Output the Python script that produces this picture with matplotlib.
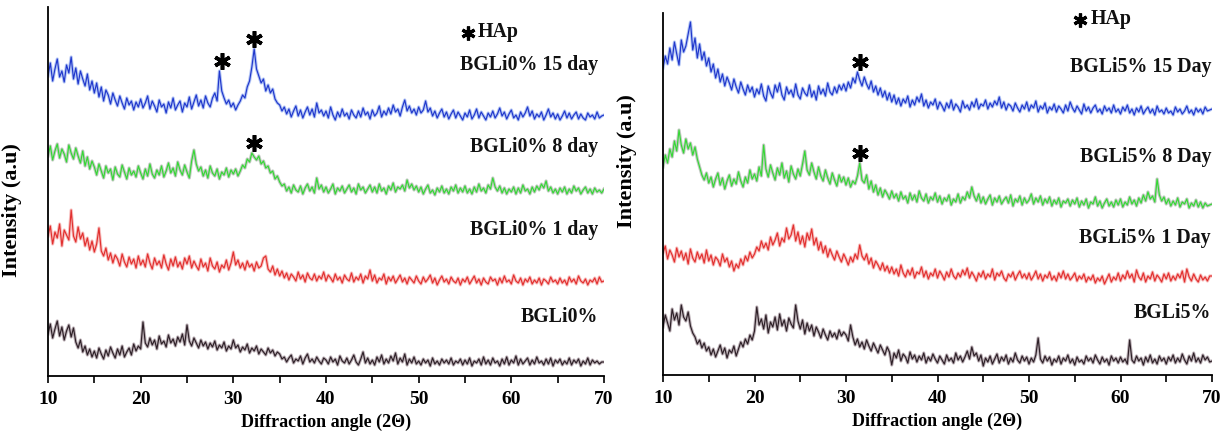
import numpy as np
import matplotlib
matplotlib.use("Agg")
import matplotlib.pyplot as plt
from matplotlib.ticker import MultipleLocator

# Scan grid (2-theta, degrees), 0.25 deg step
two_theta = np.arange(10.0, 70.0 + 1e-9, 0.25)

# ---- BGLi0% patterns (intensity, a.u.), one row per 5 degrees ----
bgli0_15d = [
    55, 68, 50, 62, 72, 54, 60, 49, 66, 58, 74, 52, 63, 47, 60, 52, 45, 57, 41, 50,
    38, 48, 34, 44, 30, 41, 36, 27, 38, 31, 25, 35, 28, 22, 33, 26, 30, 21, 29, 24,
    32, 23, 28, 35, 22, 30, 25, 19, 31, 24, 27, 18, 29, 23, 33, 21, 26, 30, 19, 28,
    24, 34, 22, 29, 36, 25, 31, 23, 35, 28, 24, 33, 38, 30, 60, 40, 33, 27, 31, 24,
    28, 21, 26, 30, 36, 33, 44, 50, 64, 82, 62, 55, 48, 52, 40, 46, 38, 42, 32, 28,
    26, 20, 24, 17, 22, 14, 20, 25, 15, 21, 13, 19, 24, 16, 22, 14, 28, 18, 21, 15,
    20, 13, 24, 16, 11, 19, 14, 22, 15, 18, 12, 21, 16, 13, 20, 14, 23, 16, 19, 12,
    21, 15, 18, 25, 14, 20, 16, 23, 17, 26, 19, 22, 15, 24, 31, 20, 25, 18, 22, 16,
    24, 18, 21, 30, 19, 23, 15, 20, 13, 18, 22, 14, 19, 12, 17, 21, 13, 19, 15, 11,
    18, 14, 21, 12, 16, 22, 13, 19, 15, 11, 18, 14, 20, 13, 17, 23, 15, 19, 12, 17,
    21, 13, 16, 11, 19, 14, 18, 24, 15, 20, 12, 17, 14, 19, 11, 16, 22, 14, 18, 12,
    17, 11, 15, 20, 13, 18, 12, 16, 19, 12, 17, 13, 11, 18, 14, 16, 12, 19, 13, 15,
    16]
bgli0_8d = [
    50, 60, 46, 55, 62, 48, 57, 52, 44, 61, 53, 47, 58, 50, 43, 55, 40, 49, 37, 45,
    39, 31, 42, 35, 28, 40, 33, 37, 26, 39, 32, 29, 41, 34, 27, 38, 31, 35, 29, 40,
    33, 27, 37, 30, 42, 32, 28, 36, 31, 40, 29, 35, 43, 33, 38, 30, 44, 36, 31, 41,
    34, 28, 45, 56, 42, 35, 39, 30, 36, 28, 40, 33, 30, 37, 27, 34, 31, 38, 29, 36,
    32, 37, 30, 35, 41, 38, 47, 44, 53, 49, 46, 50, 42, 45, 38, 40, 33, 35, 27, 30,
    24, 20, 22, 15, 19, 13, 21, 16, 14, 20, 12, 18, 22, 15, 19, 13, 28, 17, 21, 14,
    19, 13, 17, 22, 12, 18, 15, 20, 13, 17, 21, 14, 18, 12, 22, 16, 19, 13, 17, 21,
    14, 19, 13, 22, 15, 18, 12, 20, 16, 23, 14, 19, 17, 21, 15, 26, 18, 22, 16, 20,
    14, 19, 12, 17, 21, 13, 16, 11, 18, 14, 20, 13, 17, 12, 19, 15, 21, 13, 18, 14,
    20, 13, 17, 12, 19, 14, 22, 15, 18, 13, 21, 17, 28, 19, 15, 20, 13, 18, 12, 17,
    14, 19, 12, 18, 13, 21, 15, 17, 12, 19, 14, 20, 16, 22, 18, 25, 15, 19, 13, 17,
    12, 18, 14, 19, 12, 17, 13, 20, 15, 18, 12, 16, 19, 13, 17, 12, 18, 14, 16, 13,
    17]
bgli0_1d = [
    60, 70, 52, 64, 58, 72, 50, 66, 61, 56, 86, 60, 54, 69, 57, 63, 50, 58, 46, 55,
    44, 52, 68, 45, 40, 48, 36, 43, 33, 41, 37, 30, 42, 34, 29, 39, 32, 37, 28, 40,
    31, 36, 29, 42, 33, 27, 38, 31, 35, 28, 41, 32, 26, 37, 30, 39, 29, 34, 27, 38,
    32, 40, 28, 35, 30, 26, 37, 29, 33, 25, 38, 30, 27, 34, 24, 31, 28, 36, 26, 33,
    44, 31, 36, 28, 33, 26, 35, 29, 32, 25, 34, 28, 30, 38, 40, 27, 24, 30, 21, 27,
    20, 25, 18, 23, 16, 22, 19, 15, 24, 17, 21, 14, 23, 18, 16, 22, 15, 20, 17, 24,
    15, 21, 18, 14, 22, 16, 19, 13, 21, 17, 15, 23, 14, 19, 16, 22, 13, 20, 17, 26,
    15, 21, 13, 18, 16, 22, 12, 19, 15, 20, 13, 17, 21, 14, 18, 12, 19, 16, 13, 20,
    15, 12, 19, 14, 17, 21, 13, 18, 11, 16, 20, 14, 17, 12, 19, 15, 13, 18, 11, 17,
    14, 19, 12, 16, 20, 13, 17, 11, 18, 14, 12, 19, 15, 17, 11, 18, 13, 20, 14, 16,
    12, 21, 15, 13, 18, 11, 17, 14, 19, 12, 16, 13, 18, 11, 17, 15, 12, 19, 14, 16,
    12, 18, 13, 16, 11, 19, 14, 17, 12, 20, 15, 13, 17, 11, 16, 14, 18, 12, 19, 14,
    15]
bgli0_raw = [
    42, 52, 38, 47, 55, 40, 49, 36, 45, 51, 39, 48, 34, 28, 36, 24, 30, 21, 27, 19,
    25, 18, 28, 22, 17, 26, 20, 29, 23, 18, 27, 21, 30, 19, 24, 28, 21, 32, 25, 30,
    27, 54, 33, 29, 38, 31, 36, 27, 40, 32, 35, 29, 41, 33, 37, 30, 39, 34, 42, 31,
    51, 35, 30, 38, 33, 28, 36, 30, 34, 27, 33, 29, 35, 26, 31, 28, 34, 25, 30, 27,
    36, 28, 31, 24, 29, 26, 32, 23, 28, 25, 30, 22, 27, 24, 21, 28, 23, 26, 20, 24,
    22, 17, 19, 14, 18, 21, 13, 17, 15, 20, 12, 18, 22, 14, 17, 13, 19, 15, 12, 18,
    16, 12, 19, 14, 17, 11, 20, 15, 13, 18, 12, 16, 21, 14, 11, 17, 24, 13, 18, 12,
    16, 11, 19, 14, 21, 12, 17, 13, 20, 15, 23, 12, 18, 14, 22, 11, 17, 13, 19, 12,
    15, 11, 17, 13, 16, 10, 18, 12, 15, 11, 17, 13, 16, 12, 18, 11, 15, 13, 17, 11,
    16, 12, 18, 10, 15, 13, 17, 11, 19, 12, 16, 11, 18, 13, 15, 10, 17, 12, 19, 11,
    16, 13, 20, 11, 17, 12, 15, 18, 11, 16, 12, 19, 13, 15, 11, 17, 12, 18, 10, 16,
    13, 17, 11, 15, 12, 18, 11, 16, 13, 17, 10, 15, 12, 18, 11, 16, 13, 15, 12, 14,
    14]

# ---- BGLi5% patterns (intensity, a.u.) ----
bgli5_15d = [
    62, 74, 66, 82, 70, 88, 76, 65, 90, 78, 84, 96, 108, 80, 92, 72, 86, 70, 78, 64,
    72, 58, 66, 52, 61, 48, 56, 44, 53, 47, 40, 51, 43, 37, 48, 41, 35, 45, 38, 43,
    33, 41, 36, 46, 34, 29, 44, 37, 32, 45, 38, 47, 35, 30, 43, 36, 40, 33, 46, 35,
    31, 42, 37, 34, 45, 33, 39, 30, 44, 36, 41, 34, 47, 38, 35, 43, 37, 45, 40, 46,
    39, 48, 42, 52, 47, 58, 50, 44, 53, 46, 41, 49, 38, 44, 35, 42, 33, 39, 30, 37,
    28, 35, 26, 32, 24, 31, 27, 34, 23, 30, 25, 33, 28, 36, 24, 30, 22, 28, 25, 31,
    21, 28, 24, 19, 27, 22, 30, 20, 26, 23, 18, 29, 22, 25, 20, 28, 23, 31, 21, 26,
    24, 30, 21, 27, 23, 29, 25, 33, 22, 28, 20, 26, 24, 19, 27, 22, 18, 25, 21, 28,
    19, 25, 22, 29, 18, 24, 21, 27, 17, 23, 20, 26, 18, 24, 21, 17, 25, 19, 28, 22,
    18, 24, 20, 16, 26, 19, 23, 17, 22, 25, 18, 21, 16, 24, 19, 22, 17, 25, 18, 21,
    16, 23, 19, 25, 17, 21, 15, 22, 18, 24, 16, 20, 23, 17, 21, 15, 24, 18, 20, 16,
    22, 17, 19, 15, 23, 18, 21, 16, 19, 24, 17, 20, 15, 22, 18, 21, 16, 23, 19, 20,
    21]
bgli5_8d = [
    58, 70, 62, 76, 68, 84, 74, 95, 80, 72, 86, 76, 82, 70, 78, 66, 58, 50, 45, 52,
    42, 48, 38, 46, 52, 40, 47, 36, 44, 50, 39, 46, 41, 53, 44, 38, 48, 42, 55, 46,
    51, 44, 58, 49, 80, 56, 48, 60, 52, 45, 57, 50, 62, 47, 54, 43, 59, 51, 46, 56,
    49, 61, 74, 55, 50, 62, 53, 46, 58, 49, 44, 55, 47, 41, 52, 45, 39, 50, 43, 48,
    40, 47, 38, 44, 41, 49, 62, 45, 42, 50, 36, 44, 33, 40, 30, 37, 28, 35, 31, 26,
    34, 27, 31, 24, 33, 26, 29, 22, 32, 25, 30, 23, 34, 27, 24, 31, 22, 28, 25, 32,
    23, 29, 21, 27, 24, 30, 20, 26, 23, 31, 22, 28, 25, 33, 27, 38, 29, 24, 31, 22,
    28, 21, 26, 30, 20, 27, 23, 29, 21, 25, 28, 22, 30, 19, 26, 23, 29, 20, 27, 22,
    25, 31, 21, 27, 23, 29, 20, 26, 22, 28, 19, 25, 21, 27, 18, 24, 22, 26, 19, 25,
    21, 27, 18, 24, 20, 26, 17, 23, 21, 28, 19, 24, 17, 22, 26, 19, 23, 18, 25, 20,
    26, 18, 23, 20, 28, 21, 25, 19, 27, 22, 30, 24, 33, 26, 29, 23, 46, 30, 24, 28,
    21, 26, 19, 24, 20, 27, 18, 23, 21, 26, 17, 22, 19, 25, 18, 23, 17, 22, 19, 20,
    21]
bgli5_1d = [
    42, 49, 36, 45, 40, 33, 47, 38, 44, 35, 42, 31, 46, 37, 33, 43, 36, 41, 32, 45,
    34, 40, 30, 38, 35, 29, 41, 33, 37, 28, 34, 24, 31, 27, 36, 30, 39, 34, 43, 37,
    41, 48, 44, 54, 47, 52, 45, 58, 50, 55, 62, 49, 57, 53, 67, 56, 60, 70, 54, 63,
    51, 59, 48, 62, 55, 66, 50, 57, 45, 53, 42, 49, 38, 46, 40, 35, 44, 38, 33, 41,
    36, 30, 38, 33, 41, 36, 50, 39, 35, 41, 31, 37, 27, 34, 30, 25, 32, 24, 29, 22,
    28, 21, 26, 19, 30, 22, 18, 25, 20, 27, 17, 23, 21, 28, 18, 24, 16, 22, 19, 26,
    17, 24, 20, 15, 23, 18, 26, 19, 16, 22, 18, 25, 20, 27, 17, 23, 19, 14, 22, 18,
    24, 16, 21, 18, 26, 15, 22, 19, 24, 17, 14, 21, 18, 23, 15, 20, 24, 17, 21, 16,
    22, 15, 19, 24, 16, 21, 14, 20, 17, 23, 15, 19, 14, 22, 17, 24, 16, 21, 15, 18,
    22, 14, 19, 16, 21, 13, 18, 15, 20, 12, 17, 14, 19, 11, 16, 21, 13, 18, 15, 22,
    14, 20, 16, 24, 17, 21, 13, 25, 18, 15, 22, 13, 19, 16, 23, 14, 20, 17, 13, 21,
    16, 22, 14, 19, 15, 21, 17, 24, 13, 26, 18, 14, 21, 16, 13, 20, 15, 18, 14, 19,
    19]
bgli5_raw = [
    48, 60, 52, 44, 66, 55, 62, 50, 70, 58, 54, 63, 49, 42, 38, 31, 35, 27, 32, 24,
    28, 20, 26, 18, 24, 30, 21, 27, 17, 25, 22, 29, 19, 26, 33, 28, 36, 31, 40, 35,
    44, 68, 50, 56, 46, 60, 42, 53, 48, 58, 45, 61, 49, 55, 44, 57, 51, 47, 70, 54,
    46, 55, 41, 52, 44, 50, 39, 48, 43, 37, 46, 40, 35, 44, 38, 42, 36, 45, 39, 43,
    40, 34, 50, 38, 30, 36, 28, 33, 26, 35, 29, 24, 32, 27, 22, 30, 25, 20, 28, 23,
    10, 22, 17, 25, 14, 21, 18, 12, 23, 16, 20, 13, 19, 15, 22, 12, 18, 14, 21, 16,
    12, 19, 15, 11, 20, 14, 17, 12, 22, 15, 19, 13, 18, 24, 16, 28, 19, 22, 14, 20,
    9, 17, 13, 19, 11, 16, 21, 12, 18, 14, 20, 11, 17, 13, 22, 15, 12, 19, 14, 18,
    11, 17, 13, 20, 37, 16, 12, 19, 14, 18, 10, 16, 13, 19, 11, 17, 14, 20, 12, 16,
    10, 18, 13, 15, 11, 19, 14, 17, 12, 20, 15, 11, 18, 13, 16, 10, 19, 14, 17, 12,
    18, 13, 16, 11, 35, 15, 12, 19, 14, 17, 10, 18, 13, 20, 12, 16, 11, 19, 14, 17,
    11, 18, 14, 20, 12, 17, 13, 21, 15, 11, 19, 14, 22, 13, 17, 12, 20, 15, 18, 13,
    14]

left_series = [bgli0_raw, bgli0_1d, bgli0_8d, bgli0_15d]
left_offsets = [0, 80, 170, 245]
left_labels = ["BGLi0%", "BGLi0% 1 day", "BGLi0% 8 day", "BGLi0% 15 day"]
left_label_y = [59, 146, 229, 311]

right_series = [bgli5_raw, bgli5_1d, bgli5_8d, bgli5_15d]
right_offsets = [0, 80, 150, 245]
right_labels = ["BGLi5%", "BGLi5% 1 Day", "BGLi5% 8 Day", "BGLi5% 15 Day"]
right_label_y = [62, 137, 218, 308]

# HAp reflections marked on each panel: (pattern index, 2-theta)
left_hap = [(3, 28.75), (3, 32.25), (2, 32.25)]
right_hap = [(3, 31.5), (2, 31.5)]

line_colors = ["#2e2128", "#e2302f", "#35d835", "#2138cc"]
halo_colors = ["#a08f98", "#f4a2a2", "#a8b3a8", "#94aef2"]

serif = ["Liberation Serif", "DejaVu Serif"]
text_color = "#111111"

fig = plt.figure(figsize=(12.28, 4.37), dpi=100)
ax_l = fig.add_axes([48 / 1228, 61 / 437, 556 / 1228, 369 / 437])
ax_r = fig.add_axes([663 / 1228, 62 / 437, 549 / 1228, 362 / 437])


def draw_panel(ax, series, offsets, labels, label_y, haps, ytop, hap_pos, label_x,
               ylabel_y):
    for vals, off, lc, hc in zip(series, offsets, line_colors, halo_colors):
        y = np.asarray(vals, dtype=float) + off
        ax.plot(two_theta, y, color=hc, lw=2.3, alpha=0.7)
        ax.plot(two_theta, y, color=lc, lw=0.85)
    for lab, ly in zip(labels, label_y):
        ax.text(label_x, ly, lab, ha="right", va="center", fontsize=14.3,
                fontweight="bold", family=serif, color=text_color)
    for idx, ang in haps:
        vals = np.asarray(series[idx], dtype=float) + offsets[idx]
        near = np.abs(two_theta - ang) <= 0.5
        peak = vals[near].max()
        ax.plot([ang], [peak + 10], marker=(6, 2, 0), ms=12, mew=2.6, color="black")
    hx, hy = hap_pos
    ax.plot([hx], [hy], marker=(6, 2, 0), ms=10, mew=2.3, color="black")
    ax.text(hx + 1.1, hy + 1, "HAp", ha="left", va="center", fontsize=14.3,
            fontweight="bold", family=serif, color=text_color)

    ax.set_xlim(10, 70)
    ax.set_ylim(0, ytop)
    ax.xaxis.set_major_locator(MultipleLocator(10))
    ax.xaxis.set_minor_locator(MultipleLocator(5))
    ax.tick_params(axis="x", which="both", direction="out", length=5, width=1.2,
                   labelsize=14, pad=6)
    ax.tick_params(axis="y", left=False, labelleft=False)
    for lbl in ax.get_xticklabels():
        lbl.set_fontfamily(serif)
        lbl.set_fontweight("bold")
    for side in ("top", "right"):
        ax.spines[side].set_visible(False)
    for side in ("left", "bottom"):
        ax.spines[side].set_linewidth(1.3)
    ax.set_xlabel("Diffraction angle (2Θ)", fontsize=13, fontweight="bold",
                  family=serif, labelpad=4)
    ax.set_ylabel("Intensity (a.u)", fontsize=16, fontweight="bold", family=serif)
    ax.yaxis.set_label_coords(-0.047, ylabel_y)


draw_panel(ax_l, left_series, left_offsets, left_labels, left_label_y, left_hap, 369,
           (55.3, 343), 69.4, 0.45)
draw_panel(ax_r, right_series, right_offsets, right_labels, right_label_y, right_hap, 362,
           (55.6, 355), 69.9, 0.59)

fig.savefig("out.png", dpi=100)
